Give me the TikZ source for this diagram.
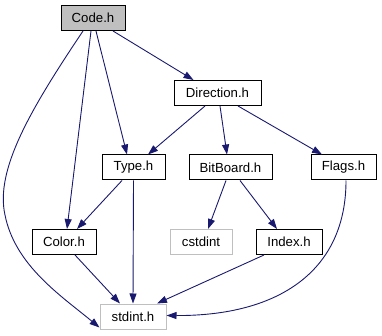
\documentclass[tikz,border=0pt]{standalone}
\usepackage{fontspec}
\setmainfont{Liberation Sans}
\usetikzlibrary{arrows.meta}
\definecolor{edgeblue}{HTML}{191970}
\definecolor{lightgrey}{HTML}{BFBFBF}
\begin{document}
\begin{tikzpicture}[x=1pt,y=-1pt,
  font=\fontsize{13.2}{15}\selectfont,
  file/.style={draw=black,line width=1pt,fill=white,minimum height=25pt,inner sep=0pt,text=black},
  current/.style={file,fill=lightgrey},
  sysfile/.style={file,draw=lightgrey},
  dep/.style={draw=edgeblue,line width=0.9pt,-{Triangle[length=10pt,width=7pt]},fill=none}]
\useasboundingbox (0,0) rectangle (382,336);

% header files
\node[current,minimum width=64pt] (code)  at (93,18)      {Code.h};
\node[file,minimum width=87pt]    (dir)   at (217.5,93)   {Direction.h};
\node[file,minimum width=63pt]    (type)  at (133.5,167.5){Type.h};
\node[file,minimum width=83pt]    (bit)   at (230.5,167.5){BitBoard.h};
\node[file,minimum width=65pt]    (flags) at (343.5,167.5){Flags.h};
\node[file,minimum width=64pt]    (color) at (64,242)     {Color.h};
\node[sysfile,minimum width=62pt] (cstd)  at (201,242)    {cstdint};
\node[file,minimum width=66pt]    (index) at (289,242)    {Index.h};
\node[sysfile,minimum width=66pt] (std)   at (133,316.5)  {stdint.h};

% include relations
\draw[dep] ([xshift=20pt]code.south) -- ([xshift=-24pt]dir.north);
\draw[dep] ([xshift=3pt]code.south) -- ([xshift=-6.5pt]type.north);
\draw[dep] ([xshift=-2pt]code.south) -- ([xshift=3pt]color.north);
\draw[dep] ([xshift=-10pt]code.south) .. controls (30,110) and (-5,170) .. (5,215)
   .. controls (15,265) and (60,295) .. ([yshift=-11pt]std.west);

\draw[dep] ([xshift=-12.5pt]dir.south) -- ([xshift=14.5pt]type.north);
\draw[dep] ([xshift=2.5pt]dir.south) -- ([xshift=-3.5pt]bit.north);
\draw[dep] ([xshift=20.5pt]dir.south) -- ([xshift=-21.5pt]flags.north);

\draw[dep] ([xshift=-11.5pt]type.south) -- ([xshift=13pt]color.north);
\draw[dep] (type.south) -- (std.north);

\draw[dep] ([xshift=-4.5pt]bit.south) -- ([xshift=7pt]cstd.north);
\draw[dep] ([xshift=9.5pt]bit.south) -- ([xshift=-12pt]index.north);

\draw[dep] ([xshift=11pt]color.south) -- ([xshift=-13pt]std.north);
\draw[dep] ([xshift=-25pt]index.south) -- ([xshift=24pt]std.north);
\draw[dep] ([xshift=2.5pt]flags.south) .. controls (346,270) and (280,316) .. ([yshift=1pt]std.east);
\end{tikzpicture}
\end{document}
